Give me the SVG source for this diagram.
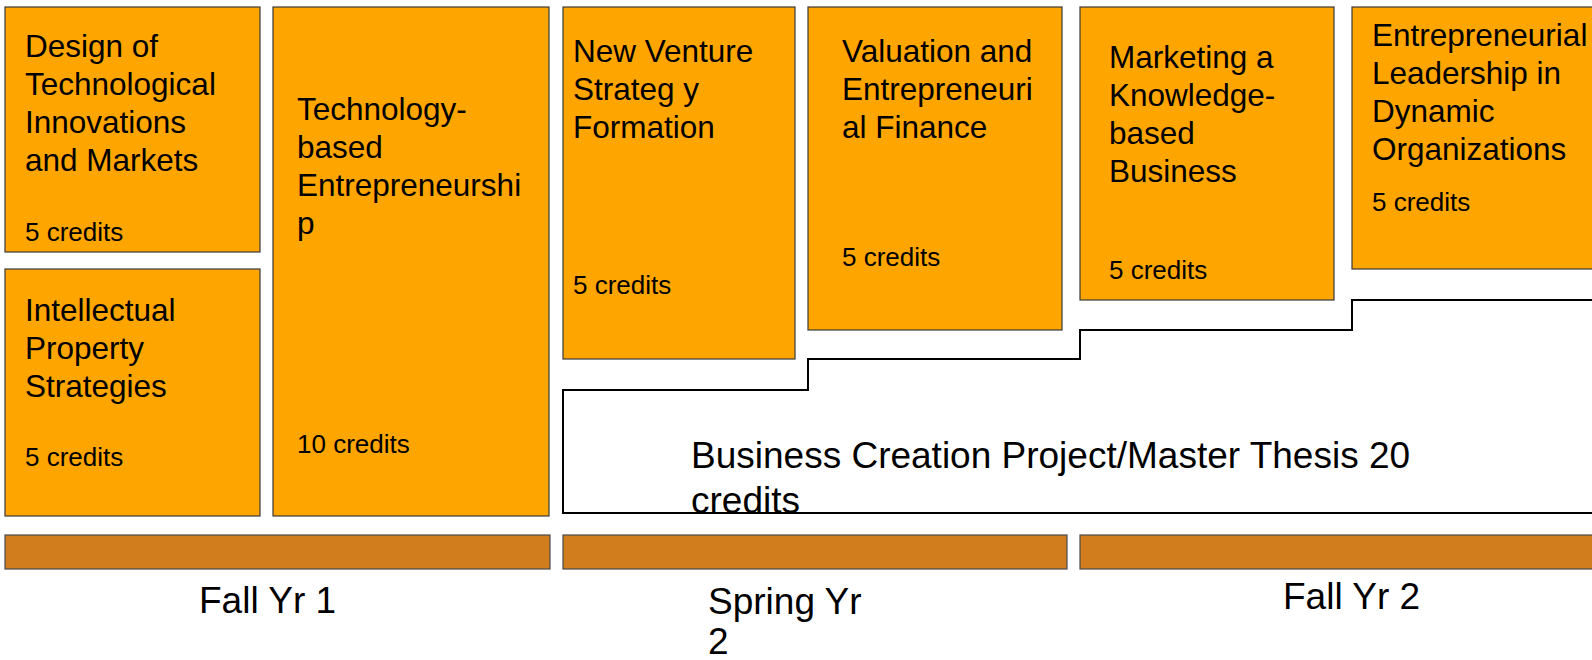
<svg xmlns="http://www.w3.org/2000/svg" width="1592" height="660" viewBox="0 0 1592 660">
<style>
.box{fill:#FFA500;stroke:#3a3a3a;stroke-width:1.2}
.bar{fill:#D17D1E;stroke:#4a4a4a;stroke-width:1.2}
.proj{fill:#FFFFFF;stroke:#000000;stroke-width:2}
text{font-family:"Liberation Sans",Arial,sans-serif;fill:#000000}
.t{font-size:31.5px}
.c{font-size:26px}
.big{font-size:37px}
.sem{font-size:37px}
</style>
<rect width="1592" height="660" fill="#FFFFFF"/>
<g id="connectors"></g>
<g id="project">
<polygon class="proj" points="563,513 563,390 808,390 808,359 1080,359 1080,330 1352,330 1352,300 1600,300 1600,513"/>
<text class="big" x="691" y="468">Business Creation Project/Master Thesis 20</text>
<text class="big" x="691" y="513">credits</text>
</g>
<g id="design">
<rect class="box" x="5" y="7" width="255" height="245"/>
<text class="t" x="25" y="57">Design of</text>
<text class="t" x="25" y="95">Technological</text>
<text class="t" x="25" y="133">Innovations</text>
<text class="t" x="25" y="171">and Markets</text>
<text class="c" x="25" y="241">5 credits</text>
</g>
<g id="ip">
<rect class="box" x="5" y="269" width="255" height="247"/>
<text class="t" x="25" y="321">Intellectual</text>
<text class="t" x="25" y="359">Property</text>
<text class="t" x="25" y="397">Strategies</text>
<text class="c" x="25" y="466">5 credits</text>
</g>
<g id="tbe">
<rect class="box" x="273" y="7" width="276" height="509"/>
<text class="t" x="297" y="120">Technology-</text>
<text class="t" x="297" y="158">based</text>
<text class="t" x="297" y="196">Entrepreneurshi</text>
<text class="t" x="297" y="234">p</text>
<text class="c" x="297" y="453">10 credits</text>
</g>
<g id="nvs">
<rect class="box" x="563" y="7" width="232" height="352"/>
<text class="t" x="573" y="62">New Venture</text>
<text class="t" x="573" y="100">Strateg y</text>
<text class="t" x="573" y="138">Formation</text>
<text class="c" x="573" y="294">5 credits</text>
</g>
<g id="valuation">
<rect class="box" x="808" y="7" width="254" height="323"/>
<text class="t" x="842" y="62">Valuation and</text>
<text class="t" x="842" y="100">Entrepreneuri</text>
<text class="t" x="842" y="138">al Finance</text>
<text class="c" x="842" y="266">5 credits</text>
</g>
<g id="marketing">
<rect class="box" x="1080" y="7" width="254" height="293"/>
<text class="t" x="1109" y="68">Marketing a</text>
<text class="t" x="1109" y="106">Knowledge-</text>
<text class="t" x="1109" y="144">based</text>
<text class="t" x="1109" y="182">Business</text>
<text class="c" x="1109" y="279">5 credits</text>
</g>
<g id="leadership">
<rect class="box" x="1352" y="7" width="260" height="262"/>
<text class="t" x="1372" y="46">Entrepreneurial</text>
<text class="t" x="1372" y="84">Leadership in</text>
<text class="t" x="1372" y="122">Dynamic</text>
<text class="t" x="1372" y="160">Organizations</text>
<text class="c" x="1372" y="211">5 credits</text>
</g>
<g id="fall1">
<rect class="bar" x="5" y="535" width="545" height="34"/>
<text class="sem" x="199" y="613">Fall Yr 1</text>
</g>
<g id="spring2">
<rect class="bar" x="563" y="535" width="504" height="34"/>
<text class="sem" x="708" y="614">Spring Yr</text>
<text class="sem" x="708" y="654">2</text>
</g>
<g id="fall2">
<rect class="bar" x="1080" y="535" width="530" height="34"/>
<text class="sem" x="1283" y="609">Fall Yr 2</text>
</g>
</svg>
